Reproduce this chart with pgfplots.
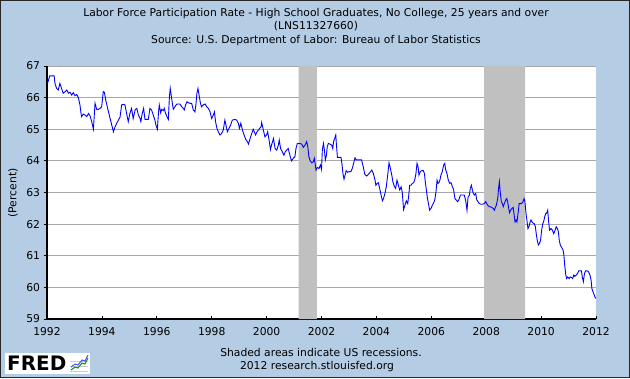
\documentclass[border=0pt]{standalone}
\usepackage{pgfplots}
\pgfplotsset{compat=1.18}
\usepackage{fontspec}
\setmainfont{DejaVu Sans}
\definecolor{bgblue}{RGB}{180,204,228}
\definecolor{recgray}{RGB}{192,192,192}
\definecolor{gridgray}{RGB}{168,168,168}
\newcommand{\lblfont}{\fontsize{10.8}{12}\selectfont}
\newcommand{\txtfont}{\fontsize{10.8}{12}\selectfont}
\begin{document}
\begin{tikzpicture}
\begin{scope}[x=1bp,y=1bp]
\path[use as bounding box] (0,0) rectangle (630,378);
\fill[bgblue] (0,0) rectangle (630,378);
\draw[black!85, line width=1bp] (0.5,0.5) rectangle (629.5,377.5);
\end{scope}
\begin{axis}[
  at={(47bp,59bp)}, anchor=south west,
  scale only axis, width=549bp, height=253bp,
  xmin=1992, xmax=2012, ymin=59, ymax=67,
  axis x line=bottom, axis y line=left,
  axis line style={-, black},
  x axis line style={-, line width=1.3bp},
  y axis line style={-, line width=2bp},
  axis background/.style={fill=white},
  xtick={1992,1994,...,2012},
  ytick={59,60,...,67},
  /pgf/number format/1000 sep={},
  /pgf/number format/assume math mode=true,
  tick label style={font=\lblfont},
  xticklabel style={yshift=-1bp},
  ymajorgrids,
  grid style={gridgray, line width=0.9bp},
  tick style={black, line width=0.8bp},
  tick align=outside,
  major tick length=3.5bp,
  xtick style={yshift=3.5bp},
]
\addplot[fill=recgray, draw=none] coordinates {(2001.17,59) (2001.17,67) (2001.83,67) (2001.83,59)} \closedcycle;
\addplot[fill=recgray, draw=none] coordinates {(2007.92,59) (2007.92,67) (2009.42,67) (2009.42,59)} \closedcycle;
\addplot[blue, line width=0.9bp, mark=none] coordinates {
(1992.02,66.45) (1992.10,66.69) (1992.26,66.69) (1992.29,66.45) (1992.35,66.29) (1992.41,66.24)
(1992.47,66.45) (1992.53,66.29) (1992.59,66.14) (1992.66,66.19) (1992.72,66.24) (1992.78,66.14)
(1992.84,66.17) (1992.90,66.08) (1992.96,66.16) (1993.02,66.06) (1993.08,66.10) (1993.14,66.01)
(1993.20,65.77) (1993.24,65.50) (1993.26,65.40) (1993.32,65.48) (1993.38,65.45) (1993.45,65.40)
(1993.51,65.50) (1993.57,65.42) (1993.63,65.24) (1993.69,65.00) (1993.75,65.82) (1993.81,65.63)
(1993.87,65.63) (1993.93,65.66) (1993.99,65.71) (1994.05,66.19) (1994.09,66.17) (1994.14,65.92)
(1994.21,65.66) (1994.30,65.34) (1994.36,65.13) (1994.42,64.92) (1994.48,65.08) (1994.54,65.19)
(1994.60,65.29) (1994.66,65.38) (1994.72,65.77) (1994.78,65.79) (1994.84,65.77) (1994.90,65.50)
(1994.96,65.24) (1995.02,65.50) (1995.08,65.66) (1995.14,65.34)
(1995.21,65.61) (1995.27,65.66) (1995.33,65.45) (1995.39,65.34) (1995.42,65.24) (1995.47,65.50)
(1995.52,65.66) (1995.57,65.31) (1995.63,65.31) (1995.69,65.31) (1995.75,65.66) (1995.81,65.61)
(1995.87,65.45) (1995.93,65.29) (1995.97,65.13) (1996.02,65.00) (1996.06,65.50) (1996.09,65.77)
(1996.14,65.52) (1996.18,65.63) (1996.24,65.59) (1996.27,65.66) (1996.32,65.50) (1996.37,65.40)
(1996.42,65.31) (1996.46,66.03) (1996.49,66.29) (1996.54,65.98) (1996.60,65.63) (1996.66,65.71)
(1996.72,65.79) (1996.78,65.80) (1996.84,65.80) (1996.91,65.71) (1996.97,65.66) (1997.00,65.61)
(1997.05,65.77) (1997.10,65.87) (1997.15,65.84) (1997.21,65.82) (1997.27,65.82) (1997.33,65.61)
(1997.39,65.55) (1997.43,65.82) (1997.46,66.14) (1997.50,66.29) (1997.54,66.08) (1997.59,65.82)
(1997.63,65.71) (1997.69,65.77) (1997.76,65.80) (1997.82,65.71) (1997.88,65.66) (1997.94,65.55)
(1998.00,65.34) (1998.06,65.45) (1998.10,65.55) (1998.14,65.24) (1998.19,65.03) (1998.24,64.92)
(1998.30,64.82) (1998.36,64.87) (1998.42,64.97) (1998.48,65.29)
(1998.52,65.13) (1998.57,64.92) (1998.63,65.03) (1998.69,65.13) (1998.75,65.29) (1998.85,65.31)
(1998.91,65.29) (1998.97,65.19) (1999.01,65.03) (1999.06,65.19) (1999.12,64.97) (1999.18,64.82)
(1999.24,64.68) (1999.30,64.61) (1999.34,64.53) (1999.40,64.71) (1999.46,64.87) (1999.51,65.00)
(1999.55,64.92) (1999.60,64.82) (1999.65,64.92) (1999.70,64.97) (1999.75,65.03) (1999.80,65.08)
(1999.82,65.21) (1999.86,65.06) (1999.91,64.87) (1999.94,64.76) (2000.00,64.82) (2000.04,64.92)
(2000.09,64.66) (2000.14,64.36) (2000.18,64.50) (2000.25,64.71) (2000.31,64.39) (2000.37,64.34)
(2000.43,64.50) (2000.46,64.66) (2000.51,64.39) (2000.57,64.29) (2000.63,64.18) (2000.68,64.29)
(2000.73,64.34) (2000.79,64.39) (2000.83,64.24) (2000.88,64.08) (2000.91,64.00) (2000.97,64.08)
(2001.03,64.13) (2001.07,64.39) (2001.12,64.55) (2001.22,64.55) (2001.28,64.53) (2001.34,64.43)
(2001.40,64.50) (2001.46,64.61) (2001.50,64.45) (2001.54,64.13) (2001.59,64.00) (2001.64,63.94)
(2001.70,63.97) (2001.74,64.08)
(2001.80,63.71) (2001.85,63.79) (2001.91,63.76) (2001.96,63.87) (2002.00,63.73) (2002.03,64.34)
(2002.07,64.55) (2002.10,64.39) (2002.14,64.03) (2002.18,64.18) (2002.21,64.45) (2002.25,64.55)
(2002.31,64.53) (2002.37,64.50) (2002.41,64.39) (2002.44,64.61) (2002.48,64.71) (2002.52,64.82)
(2002.54,64.55) (2002.58,64.11) (2002.64,64.11) (2002.71,64.11) (2002.75,63.87) (2002.78,63.60)
(2002.82,63.42) (2002.86,63.55) (2002.90,63.69) (2002.95,63.64) (2003.01,63.66) (2003.07,63.66)
(2003.12,63.76) (2003.17,63.92) (2003.22,64.10) (2003.27,64.03) (2003.34,64.03) (2003.40,64.03)
(2003.46,64.03) (2003.52,63.81) (2003.58,63.57) (2003.65,63.52) (2003.71,63.58) (2003.77,63.64)
(2003.83,63.71) (2003.89,63.60) (2003.95,63.39) (2003.98,63.23) (2004.03,63.29) (2004.07,63.31)
(2004.12,63.13) (2004.17,62.92) (2004.22,62.74) (2004.26,62.81) (2004.31,62.97) (2004.36,63.18)
(2004.41,63.55) (2004.46,63.94) (2004.51,63.76) (2004.56,63.55) (2004.60,63.34) (2004.65,63.20)
(2004.70,63.13) (2004.75,63.39) (2004.80,63.23) (2004.85,63.08) (2004.90,63.18) (2004.94,63.02)
(2004.99,62.46)
(2005.09,62.74) (2005.14,62.65) (2005.18,62.92) (2005.21,63.23) (2005.26,63.23) (2005.31,63.29)
(2005.36,63.31) (2005.41,63.45) (2005.44,63.60) (2005.48,63.92) (2005.52,63.81) (2005.55,63.55)
(2005.60,63.66) (2005.65,63.69) (2005.71,63.69) (2005.75,63.60) (2005.78,63.34) (2005.82,63.08)
(2005.86,62.81) (2005.89,62.68) (2005.94,62.44) (2005.99,62.50) (2006.04,62.60) (2006.09,62.68)
(2006.13,62.78) (2006.17,63.02) (2006.21,63.39) (2006.24,63.29) (2006.28,63.31) (2006.32,63.41)
(2006.35,63.55) (2006.40,63.66) (2006.45,63.87) (2006.49,63.92) (2006.52,63.73) (2006.57,63.60)
(2006.62,63.39) (2006.67,63.29) (2006.72,63.31) (2006.77,63.18) (2006.81,63.10) (2006.86,62.81)
(2006.91,62.76) (2006.96,62.71) (2007.01,62.78) (2007.06,62.92) (2007.13,62.92) (2007.20,62.92)
(2007.25,62.76) (2007.30,62.44) (2007.34,62.86) (2007.39,62.92) (2007.42,63.13) (2007.46,63.23)
(2007.49,63.10) (2007.53,62.97) (2007.57,62.92) (2007.62,62.97) (2007.65,62.78) (2007.70,62.71)
(2007.75,62.65) (2007.81,62.63) (2007.87,62.63) (2007.93,62.65) (2007.98,62.71) (2008.03,62.63)
(2008.08,62.57) (2008.14,62.55) (2008.20,62.53) (2008.25,62.50) (2008.30,62.44)
(2008.32,62.50) (2008.37,62.60) (2008.42,62.81) (2008.45,63.13) (2008.48,63.34) (2008.51,63.02)
(2008.55,62.71) (2008.59,62.65) (2008.62,62.55) (2008.66,62.65) (2008.71,62.76) (2008.75,62.81)
(2008.78,62.71) (2008.82,62.50) (2008.85,62.36) (2008.89,62.44) (2008.94,62.50) (2008.98,62.53)
(2009.01,62.34) (2009.05,62.07) (2009.09,62.13) (2009.12,62.07) (2009.16,62.34) (2009.20,62.65)
(2009.24,62.65) (2009.29,62.65) (2009.34,62.71) (2009.38,62.81) (2009.41,62.71) (2009.45,62.34)
(2009.49,62.07) (2009.52,61.86) (2009.56,61.92) (2009.60,62.07) (2009.63,62.13) (2009.67,62.07)
(2009.70,62.04) (2009.75,62.02) (2009.79,61.92) (2009.83,61.65) (2009.86,61.49) (2009.90,61.34)
(2009.94,61.39) (2009.98,61.49) (2010.02,61.81) (2010.06,62.02) (2010.09,62.07) (2010.13,62.23)
(2010.17,62.34) (2010.20,62.34) (2010.24,62.44) (2010.28,62.02) (2010.31,61.81) (2010.36,61.86)
(2010.41,61.81) (2010.46,61.70) (2010.51,61.81) (2010.55,61.92) (2010.59,61.86) (2010.63,61.76)
(2010.66,61.49) (2010.70,61.34) (2010.75,61.26) (2010.80,61.18) (2010.83,61.02) (2010.86,60.70)
(2010.90,60.39) (2010.93,60.28) (2010.97,60.33) (2011.02,60.28) (2011.06,60.33) (2011.11,60.31)
(2011.15,60.28) (2011.19,60.39) (2011.23,60.35) (2011.28,60.39) (2011.33,60.44) (2011.37,60.52)
(2011.42,60.52) (2011.47,60.52) (2011.50,60.33) (2011.54,60.18) (2011.58,60.44) (2011.62,60.52)
(2011.68,60.52) (2011.73,60.49) (2011.78,60.39) (2011.82,60.23) (2011.85,59.96) (2011.89,59.86)
(2011.93,59.77) (2011.96,59.70) (2011.99,59.65)
};
\end{axis}
\begin{scope}[x=1bp,y=1bp]
\node[font=\txtfont, anchor=base] at (316,362) {Labor Force Participation Rate - High School Graduates, No College, 25 years and over};
\node[font=\txtfont, anchor=base] at (316,348.5) {(LNS11327660)};
\node[font=\txtfont, anchor=base] at (316,335) {Source: U.S. Department of Labor: Bureau of Labor Statistics};
\node[font=\txtfont, rotate=90] at (13,185) {(Percent)};
\node[font=\txtfont, anchor=base] at (321,22) {Shaded areas indicate US recessions.};
\node[font=\txtfont, anchor=base] at (317,8.5) {2012 research.stlouisfed.org};
\fill[white] (5,4) rectangle (90,25);
\node[font=\fontsize{20}{20}\selectfont\bfseries, anchor=west, inner sep=0pt] at (7,14.5) {FRED};
\draw[gray!40, line width=0.5bp] (70,7) -- (88,7) (70,12) -- (88,12) (70,17) -- (88,17);
\draw[green!60!black, line width=1bp] (71,8) -- (75,11) -- (78,10) -- (82,15) -- (85,14) -- (88,20);
\draw[blue!70, line width=1bp] (71,11) -- (75,14) -- (78,13) -- (82,18) -- (85,17) -- (88,23);
\end{scope}
\end{tikzpicture}
\end{document}
